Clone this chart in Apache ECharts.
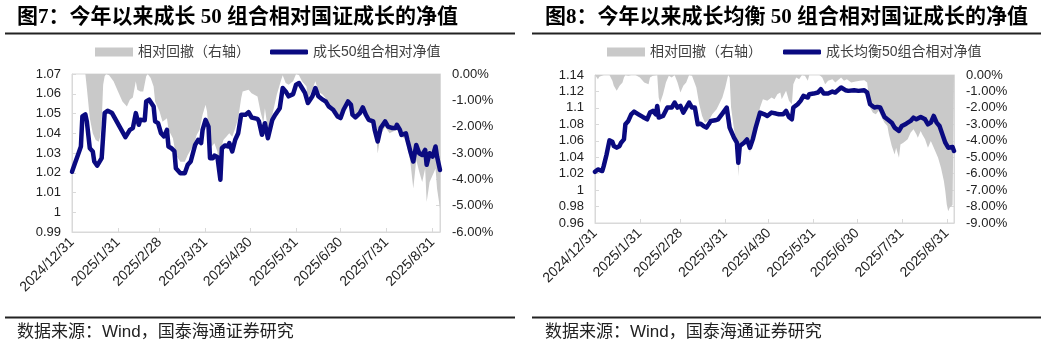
<!DOCTYPE html>
<html>
<head>
<meta charset="utf-8">
<title>成长组合相对国证成长的净值</title>
<script src="https://cdn.jsdelivr.net/npm/echarts@6/dist/echarts.min.js"></script>
<style>
  html, body { margin: 0; padding: 0; background: #fff; }
  #main { width: 1048px; height: 347px; }
</style>
</head>
<body>
<div id="main"></div>
<script>
// Month-end tick labels shared by both panels
const tickLabels = ['2024/12/31', '2025/1/31', '2025/2/28', '2025/3/31', '2025/4/30',
  '2025/5/31', '2025/6/30', '2025/7/31', '2025/8/31'];

const titleLeft = '图7：今年以来成长 50 组合相对国证成长的净值';
const titleRight = '图8：今年以来成长均衡 50 组合相对国证成长的净值';
const sourceText = '数据来源：Wind，国泰海通证券研究';
const ddName = '相对回撤（右轴）';
const navName1 = '成长50组合相对净值';
const navName2 = '成长均衡50组合相对净值';

// Panel 1: 成长50组合 relative NAV (dates as M/D, 12/31 = 2024)
const navDates1 = ['12/31','1/2','1/4','1/6','1/7','1/9','1/10','1/12','1/14','1/15','1/17','1/20','1/22','1/24','1/27','2/5','2/8','2/10','2/11','2/12','2/13','2/14','2/15','2/18','2/19','2/21','2/24','2/25','2/27','3/1','3/3','3/5','3/6','3/8','3/10','3/11','3/14','3/17','3/19','3/21','3/24','3/26','3/28','3/29','3/31','4/2','4/3','4/5','4/6','4/8','4/10','4/11','4/13','4/15','4/16','4/18','4/20','4/22','4/24','4/27','4/29','5/1','5/5','5/6','5/8','5/10','5/12','5/13','5/15','5/17','5/20','5/22','5/24','5/26','5/29','5/31','6/2','6/4','6/6','6/8','6/11','6/13','6/15','6/18','6/20','6/22','6/25','6/28','6/30','7/2','7/5','7/7','7/8','7/10','7/13','7/15','7/17','7/19','7/22','7/23','7/25','7/27','7/30','8/1','8/4','8/6','8/7','8/9','8/10','8/13','8/14','8/16','8/18','8/20','8/22','8/24','8/26','8/27','8/29','8/31','9/2','9/3','9/5'];
const navValues1 = [1.0205,1.0248,1.029,1.0333,1.0485,1.0495,1.046,1.0324,1.0308,1.0257,
  1.0236,1.0274,1.0502,1.0514,1.0502,1.038,1.0417,1.0426,1.0417,1.0502,
  1.0494,1.0443,1.0468,1.0466,1.0561,1.057,1.0536,1.046,1.0451,1.04,
  1.0384,1.0417,1.0333,1.0324,1.031,1.0223,1.0198,1.0198,1.024,1.0257,
  1.0341,1.0367,1.035,1.0417,1.0468,1.0434,1.0274,1.0274,1.0287,1.028,
  1.0165,1.0324,1.0338,1.0333,1.035,1.0308,1.0367,1.04,1.0494,1.0494,
  1.0507,1.048,1.0473,1.046,1.0392,1.0451,1.0375,1.0367,1.0468,1.0494,
  1.0527,1.0629,1.0612,1.0587,1.0598,1.0646,1.0654,1.0629,1.0604,1.0553,
  1.0587,1.0629,1.0587,1.057,1.0561,1.0536,1.0519,1.0485,1.0477,1.0519,
  1.0561,1.0544,1.0494,1.048,1.0502,1.0531,1.0494,1.0468,1.046,1.0417,
  1.0358,1.0426,1.046,1.0434,1.0426,1.0426,1.0443,1.0417,1.0392,1.04,
  1.0367,1.0308,1.0257,1.0341,1.0299,1.029,1.0316,1.024,1.0299,1.0282,
  1.0333,1.0282,1.0214];

// Panel 1: relative drawdown, %
const ddDates1 = ['12/31','1/9','1/10','1/12','1/14','1/16','1/18','1/19','1/20','1/21','1/22','1/23','1/25','1/28','1/31','2/3','2/6','2/8','2/10','2/12','2/13','2/15','2/17','2/19','2/20','2/22','2/24','2/25','2/28','3/2','3/5','3/6','3/9','3/11','3/14','3/17','3/19','3/23','3/25','3/27','3/29','3/31','4/1','4/2','4/4','4/6','4/8','4/9','4/10','4/12','4/14','4/16','4/18','4/20','4/22','4/24','4/25','4/29','5/1','5/5','5/7','5/9','5/10','5/12','5/15','5/16','5/18','5/21','5/22','5/24','5/26','5/29','5/31','6/2','6/4','6/7','6/8','6/11','6/13','6/15','6/18','6/20','6/23','6/26','6/29','6/30','7/2','7/5','7/7','7/8','7/10','7/13','7/15','7/17','7/19','7/22','7/24','7/25','7/27','7/30','8/2','8/4','8/7','8/10','8/12','8/14','8/16','8/18','8/20','8/22','8/24','8/26','8/27','8/29','8/30','9/2','9/3','9/5'];
const ddValues1 = [0,0,-0.53,-1.68,-2.25,-2.51,-2.57,-2.38,-1.81,-0.41,
  -0.09,0,-0.05,-0.28,-0.66,-1.04,-1.23,-0.98,-0.89,-0.28,
  -0.6,-0.66,-0.66,-0.09,0,-0.15,-0.47,-1.04,-1.42,-1.81,
  -1.68,-2.12,-2.44,-3.08,-3.33,-3.33,-3.08,-2.7,-2.32,-2.12,
  -1.55,-1.17,-1.42,-2.12,-2.76,-2.63,-2.95,-3.71,-2.95,-2.51,
  -2.38,-2.25,-2.38,-2.06,-1.68,-0.92,-0.66,-0.6,-0.73,-0.85,
  -1.42,-1.87,-1.3,-2.12,-1.55,-1.3,-0.79,-0.22,-0.05,-0.34,
  -0.41,-0.28,0,-0.05,-0.28,-0.47,-0.92,-0.6,-0.28,-0.66,
  -0.79,-0.92,-1.17,-1.3,-1.55,-1.65,-1.3,-1.04,-1.17,-1.55,
  -1.68,-1.49,-1.3,-1.61,-1.81,-1.93,-2.32,-3.02,-2.32,-2.0,
  -2.25,-2.19,-2.12,-2.38,-2.44,-2.76,-3.33,-4.35,-3.27,-3.71,
  -4.1,-3.59,-4.86,-4.1,-4.16,-3.59,-4.35,-5.11];

// Panel 2: 成长均衡50组合 relative NAV
const navDates2 = ['12/31','1/2','1/5','1/6','1/8','1/10','1/12','1/13','1/15','1/17','1/18','1/20','1/21','1/23','1/25','1/27','1/30','2/2','2/5','2/7','2/9','2/11','2/12','2/13','2/14','2/16','2/19','2/22','2/24','2/26','2/28','3/2','3/3','3/6','3/8','3/10','3/12','3/14','3/16','3/18','3/21','3/24','3/26','3/29','4/1','4/2','4/3','4/6','4/8','4/9','4/10','4/13','4/15','4/17','4/19','4/21','4/22','4/24','4/27','4/29','5/2','5/5','5/7','5/8','5/10','5/12','5/14','5/16','5/17','5/20','5/22','5/24','5/27','5/28','5/31','6/3','6/5','6/7','6/10','6/13','6/15','6/19','6/22','6/24','6/28','7/1','7/5','7/7','7/9','7/12','7/14','7/16','7/19','7/21','7/24','7/26','7/27','7/29','7/31','8/3','8/6','8/8','8/10','8/13','8/16','8/18','8/20','8/22','8/24','8/26','8/28','8/30','9/1','9/4','9/5'];
const navValues2 = [1.0223,1.0251,1.0232,1.0292,1.0434,1.0605,1.0589,1.0537,1.0516,1.0537,
  1.0577,1.0617,1.08,1.0841,1.0922,1.0955,1.0922,1.089,1.0861,1.0943,
  1.0963,1.0922,1.1024,1.0882,1.0861,1.0902,1.1004,1.1004,1.1065,1.1004,
  1.1024,1.0943,1.0922,1.1065,1.1004,1.1004,1.08,1.0808,1.078,1.076,
  1.0841,1.0849,1.0861,1.0931,1.1004,1.1012,1.076,1.0638,1.0577,1.0333,
  1.0536,1.0577,1.0617,1.0516,1.0617,1.076,1.0821,1.0943,1.0922,1.0902,
  1.0943,1.0931,1.0922,1.0943,1.0922,1.0963,1.089,1.0861,1.1004,1.1044,
  1.1085,1.1146,1.1126,1.1166,1.1174,1.1187,1.1227,1.1174,1.1174,1.1199,
  1.1187,1.1248,1.1215,1.1207,1.1215,1.1207,1.1215,1.1187,1.1044,1.1004,
  1.1012,1.1004,1.089,1.0861,1.082,1.076,1.076,1.0719,1.078,1.0808,
  1.0841,1.0882,1.0861,1.089,1.0861,1.08,1.0821,1.0902,1.0821,1.078,
  1.0678,1.0577,1.0516,1.0524,1.0476];

// Panel 2: relative drawdown, %
const ddDates2 = ['12/31','1/2','1/3','1/6','1/10','1/12','1/13','1/15','1/17','1/19','1/20','1/21','1/23','1/25','1/28','1/31','2/3','2/6','2/7','2/9','2/12','2/13','2/14','2/16','2/18','2/20','2/22','2/24','2/26','2/28','3/2','3/4','3/6','3/8','3/11','3/13','3/15','3/17','3/20','3/22','3/25','3/29','3/31','4/2','4/3','4/4','4/6','4/8','4/9','4/10','4/12','4/15','4/17','4/19','4/21','4/22','4/24','4/26','4/29','5/2','5/4','5/6','5/8','5/9','5/12','5/14','5/16','5/17','5/19','5/21','5/23','5/25','5/27','5/28','6/4','6/6','6/8','6/10','6/13','6/15','6/19','6/21','6/23','6/26','6/29','7/2','7/5','7/7','7/9','7/11','7/13','7/15','7/16','7/19','7/21','7/22','7/24','7/26','7/27','7/29','7/30','8/1','8/4','8/6','8/8','8/10','8/11','8/13','8/14','8/16','8/18','8/20','8/21','8/23','8/25','8/26','8/27','8/29','8/30','8/31','9/1','9/2','9/4','9/5'];
const ddValues2 = [0,-0.26,-0.11,0,0,-0.35,-0.66,-0.96,-0.66,-0.46,
  -0.15,0,-0.05,0,0,-0.15,-0.46,-0.56,-0.15,-0.05,
  0,-1.37,-1.68,-1.17,-0.46,-0.05,-0.15,0,-0.46,-1.07,
  -0.66,-0.46,0,-0.05,-0.76,-1.78,-2.49,-2.9,-2.7,-2.39,
  -2.09,-1.37,-0.76,0,-0.15,-1.98,-3.3,-4.12,-6.15,-4.32,
  -4.12,-3.81,-4.73,-4.01,-3.2,-2.79,-1.98,-1.48,-1.57,-1.37,
  -1.48,-1.17,-1.07,-1.48,-0.96,-1.57,-1.78,-0.56,-0.15,-0.26,
  0,-0.05,-0.35,0,0,-0.15,-0.56,-0.35,-0.26,-0.46,
  -0.15,-0.35,-0.26,-0.46,-0.4,-0.35,-0.32,-0.46,-1.98,-2.29,
  -2.39,-2.18,-2.39,-2.9,-3.1,-3.61,-4.32,-4.83,-4.42,-5.03,
  -4.22,-4.12,-3.91,-3.51,-3.3,-3.61,-3.81,-3.4,-3.61,-3.91,
  -4.42,-4.01,-4.01,-4.62,-5.03,-5.34,-5.64,-6.45,-7.06,-7.88,
  -8.28,-8.08,-7.9,-8.0];

// Day offset from 2024/12/31; accepts 'Y/M/D' or 'M/D' (month 12 belongs to 2024)
function dayOf(s) {
  const p = s.split('/').map(Number);
  let y, m, d;
  if (p.length === 3) { [y, m, d] = p; } else { [m, d] = p; y = m === 12 ? 2024 : 2025; }
  return Math.round((Date.UTC(y, m - 1, d) - Date.UTC(2024, 11, 31)) / 864e5);
}
const tickDays = tickLabels.map(dayOf);
const pairs = (dates, vals) => dates.map((d, i) => [dayOf(d), vals[i]]);
const lastDay = Math.max(dayOf(navDates1[navDates1.length - 1]), dayOf(navDates2[navDates2.length - 1]));

const NAVY = '#0a0a80';
const GRAY = '#c9c9c9';
const AXIS = '#d9d9d9';
const LATIN = "'Liberation Sans', 'Noto Sans CJK SC', sans-serif";

function xAxisFor(gridIndex) {
  return {
    type: 'value', gridIndex, min: 0, max: lastDay,
    splitLine: { show: false },
    axisLine: { onZero: false, lineStyle: { color: AXIS } },
    axisTick: { inside: true, length: 4, customValues: tickDays, lineStyle: { color: AXIS } },
    axisLabel: {
      customValues: tickDays, rotate: 45, margin: 8,
      fontSize: 14, color: '#222', fontFamily: LATIN,
      formatter: v => tickLabels[tickDays.indexOf(v)]
    }
  };
}
function navAxis(gridIndex, min, max, interval) {
  return {
    type: 'value', gridIndex, position: 'left', min, max, interval,
    splitLine: { show: false },
    axisLine: { show: true, onZero: false, lineStyle: { color: AXIS } },
    axisTick: { show: true, inside: true, length: 4, lineStyle: { color: AXIS } },
    axisLabel: { margin: 11, fontSize: 13, color: '#222', fontFamily: LATIN,
      formatter: v => String(Number(v.toFixed(2))) }
  };
}
function ddAxis(gridIndex, min) {
  return {
    type: 'value', gridIndex, position: 'right', min, max: 0, interval: 1,
    splitLine: { show: false },
    axisLine: { show: true, onZero: false, lineStyle: { color: AXIS } },
    axisTick: { show: true, inside: true, length: 4, lineStyle: { color: AXIS } },
    axisLabel: { margin: 12, fontSize: 13, color: '#222', fontFamily: LATIN,
      formatter: v => v.toFixed(2) + '%' }
  };
}
function ddSeries(xi, yi, data) {
  return {
    name: ddName, type: 'line', xAxisIndex: xi, yAxisIndex: yi, data,
    symbol: 'none', z: 1, silent: true,
    lineStyle: { width: 0 }, itemStyle: { color: GRAY },
    areaStyle: { color: GRAY, opacity: 1 }
  };
}
function navSeries(name, xi, yi, data) {
  return {
    name, type: 'line', xAxisIndex: xi, yAxisIndex: yi, data,
    symbol: 'none', z: 3, silent: true, itemStyle: { color: NAVY },
    lineStyle: { color: NAVY, width: 4.5, cap: 'round', join: 'round' }
  };
}
const legendText = { fontSize: 14, color: '#404040', fontFamily: LATIN };
function legendItem(name, left, icon, h) {
  return { data: [name], left, top: 45, icon, itemWidth: 38, itemHeight: h,
    padding: 0, selectedMode: false, textStyle: legendText };
}
const titleStyle = { fontSize: 21, fontWeight: 'bold', color: '#000',
  fontFamily: "'Liberation Serif', 'Noto Sans CJK SC', serif" };
const sourceStyle = { fontSize: 17, fontWeight: 'normal', color: '#222', fontFamily: LATIN };
const rule = (x1, x2, y) => ({ type: 'line', shape: { x1, y1: y, x2, y2: y },
  style: { stroke: '#222', lineWidth: 2 }, silent: true });

const chart = echarts.init(document.getElementById('main'), null, { renderer: 'canvas' });
chart.setOption({
  animation: false,
  backgroundColor: '#fff',
  title: [
    { text: titleLeft, left: 17, top: 7, padding: 0, textStyle: titleStyle },
    { text: titleRight, left: 545, top: 7, padding: 0, textStyle: titleStyle },
    { text: sourceText, left: 17, top: 324, padding: 0, textStyle: sourceStyle },
    { text: sourceText, left: 545, top: 324, padding: 0, textStyle: sourceStyle }
  ],
  graphic: [rule(5, 515, 33.5), rule(532, 1041, 33.5), rule(5, 515, 317.5), rule(532, 1041, 317.5)],
  legend: [
    legendItem(ddName, 95, 'rect', 9),
    legendItem(navName1, 270, 'roundRect', 5),
    legendItem(ddName, 607, 'rect', 9),
    legendItem(navName2, 783, 'roundRect', 5)
  ],
  grid: [
    { left: 72, top: 74, width: 368, height: 158, show: true, borderColor: AXIS, borderWidth: 1, backgroundColor: '#fff' },
    { left: 595, top: 75, width: 359, height: 148, show: true, borderColor: AXIS, borderWidth: 1, backgroundColor: '#fff' }
  ],
  xAxis: [xAxisFor(0), xAxisFor(1)],
  yAxis: [navAxis(0, 0.99, 1.07, 0.01), ddAxis(0, -6), navAxis(1, 0.96, 1.14, 0.02), ddAxis(1, -9)],
  series: [
    ddSeries(0, 1, pairs(ddDates1, ddValues1)),
    navSeries(navName1, 0, 0, pairs(navDates1, navValues1)),
    ddSeries(1, 3, pairs(ddDates2, ddValues2)),
    navSeries(navName2, 1, 2, pairs(navDates2, navValues2))
  ]
});
</script>
</body>
</html>
